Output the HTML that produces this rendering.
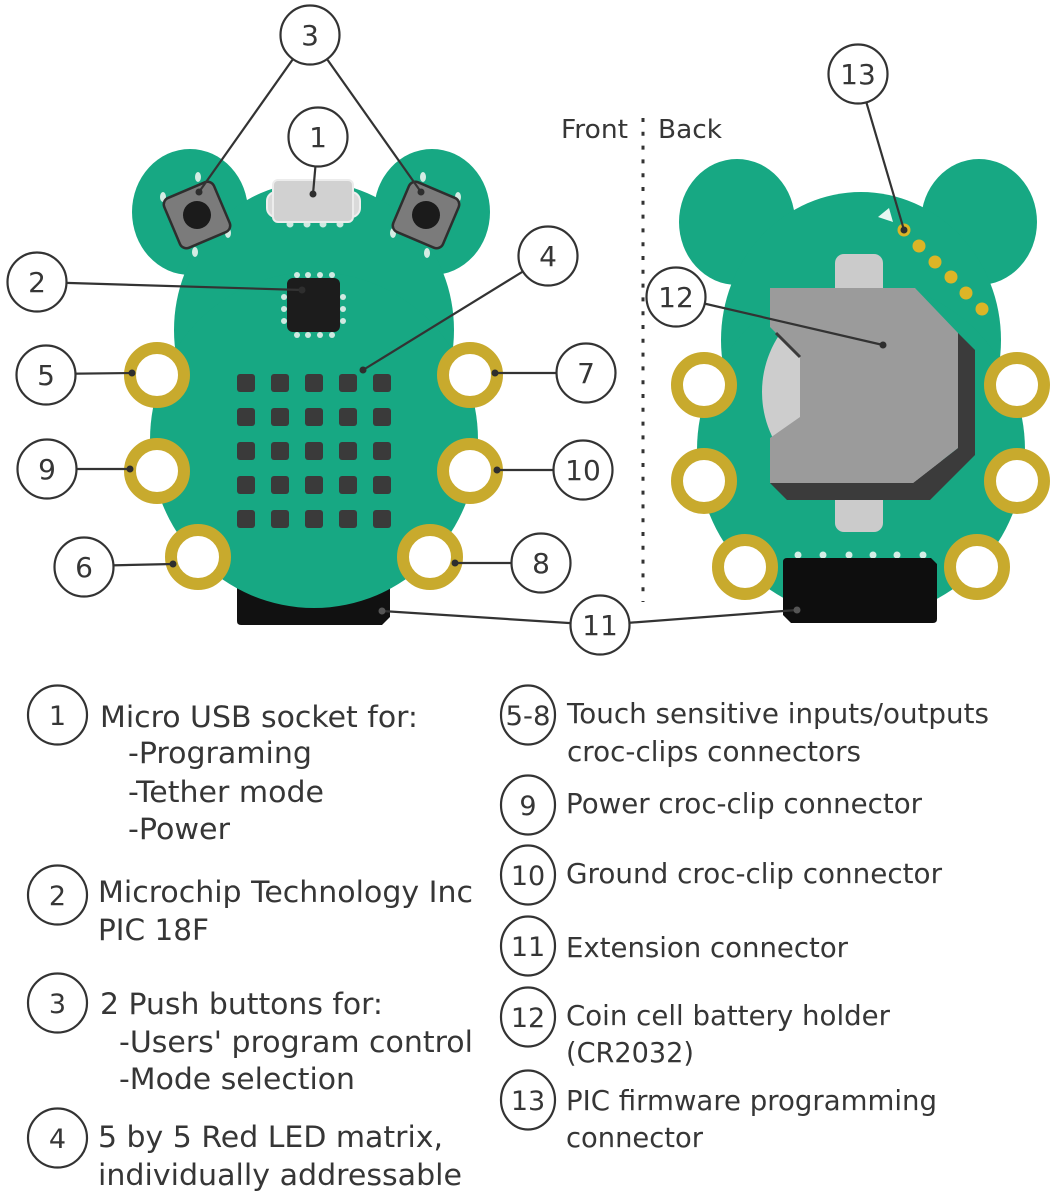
<!DOCTYPE html>
<html><head><meta charset="utf-8"><style>
html,body{margin:0;padding:0;background:#fff;}
svg{display:block;}
text{font-family:"DejaVu Sans","Liberation Sans",sans-serif;fill:#363636;}
</style></head><body>
<svg width="1057" height="1200" viewBox="0 0 1057 1200" xmlns="http://www.w3.org/2000/svg">
<rect width="1057" height="1200" fill="#fff"/>

<!-- FRONT extension connector (behind board) -->
<path d="M237,565 H390 V617 L382,625 H241 Q237,625 237,621 Z" fill="#111"/>

<!-- FRONT board -->
<g fill="#17a883">
  <ellipse cx="190" cy="212" rx="58" ry="63"/>
  <ellipse cx="432" cy="212" rx="58" ry="63"/>
  <ellipse cx="314" cy="330" rx="140" ry="148"/>
  <ellipse cx="314" cy="440" rx="164" ry="168"/>
</g>

<!-- USB -->
<g fill="#cfe9e1">
  <circle cx="290" cy="224" r="3.5"/><circle cx="307" cy="224" r="3.5"/>
  <circle cx="323" cy="224" r="3.5"/><circle cx="340" cy="224" r="3.5"/>
</g>
<rect x="267" y="192" width="93" height="25" rx="9" fill="#dadada" stroke="#eeeeee" stroke-width="2"/>
<rect x="273" y="180" width="80" height="42" rx="5" fill="#d1d1d1" stroke="#ececec" stroke-width="2"/>

<!-- Buttons -->
<g fill="#d4ece4">
  <ellipse cx="198" cy="177" rx="3" ry="5"/><ellipse cx="163" cy="197" rx="3" ry="5"/>
  <ellipse cx="228" cy="233" rx="3" ry="5"/><ellipse cx="195" cy="252" rx="3" ry="5"/>
  <ellipse cx="423" cy="177" rx="3" ry="5"/><ellipse cx="458" cy="197" rx="3" ry="5"/>
  <ellipse cx="393" cy="233" rx="3" ry="5"/><ellipse cx="427" cy="253" rx="3" ry="5"/>
</g>
<g transform="translate(197,215) rotate(-23)">
  <rect x="-27" y="-27" width="54" height="54" rx="7" fill="#7b7b7b" stroke="#2e2e2e" stroke-width="2.5"/>
  <circle cx="0" cy="0" r="14" fill="#1b1b1b"/>
</g>
<g transform="translate(426,215) rotate(23)">
  <rect x="-27" y="-27" width="54" height="54" rx="7" fill="#7b7b7b" stroke="#2e2e2e" stroke-width="2.5"/>
  <circle cx="0" cy="0" r="14" fill="#1b1b1b"/>
</g>

<!-- Chip -->
<g fill="#cfe9e1">
  <circle cx="297" cy="275" r="3"/><circle cx="308" cy="275" r="3"/><circle cx="320" cy="275" r="3"/><circle cx="332" cy="275" r="3"/>
  <circle cx="297" cy="335" r="3"/><circle cx="308" cy="335" r="3"/><circle cx="320" cy="335" r="3"/><circle cx="332" cy="335" r="3"/>
  <circle cx="284" cy="297" r="3"/><circle cx="284" cy="309" r="3"/><circle cx="284" cy="321" r="3"/>
  <circle cx="343" cy="297" r="3"/><circle cx="343" cy="309" r="3"/><circle cx="343" cy="321" r="3"/>
</g>
<rect x="287" y="278" width="53" height="54" rx="6" fill="#1c1c1c"/>

<!-- LED matrix -->
<g fill="#3a3a3a">
  <rect x="237" y="374" width="18" height="18" rx="3"/><rect x="271" y="374" width="18" height="18" rx="3"/><rect x="305" y="374" width="18" height="18" rx="3"/><rect x="339" y="374" width="18" height="18" rx="3"/><rect x="373" y="374" width="18" height="18" rx="3"/>
  <rect x="237" y="408" width="18" height="18" rx="3"/><rect x="271" y="408" width="18" height="18" rx="3"/><rect x="305" y="408" width="18" height="18" rx="3"/><rect x="339" y="408" width="18" height="18" rx="3"/><rect x="373" y="408" width="18" height="18" rx="3"/>
  <rect x="237" y="442" width="18" height="18" rx="3"/><rect x="271" y="442" width="18" height="18" rx="3"/><rect x="305" y="442" width="18" height="18" rx="3"/><rect x="339" y="442" width="18" height="18" rx="3"/><rect x="373" y="442" width="18" height="18" rx="3"/>
  <rect x="237" y="476" width="18" height="18" rx="3"/><rect x="271" y="476" width="18" height="18" rx="3"/><rect x="305" y="476" width="18" height="18" rx="3"/><rect x="339" y="476" width="18" height="18" rx="3"/><rect x="373" y="476" width="18" height="18" rx="3"/>
  <rect x="237" y="510" width="18" height="18" rx="3"/><rect x="271" y="510" width="18" height="18" rx="3"/><rect x="305" y="510" width="18" height="18" rx="3"/><rect x="339" y="510" width="18" height="18" rx="3"/><rect x="373" y="510" width="18" height="18" rx="3"/>
</g>

<!-- Front pads -->
<g fill="#fff" stroke="#c8aa2d" stroke-width="12">
  <circle cx="157" cy="375" r="27"/><circle cx="157" cy="471" r="27"/><circle cx="198" cy="557" r="27"/>
  <circle cx="470" cy="375" r="27"/><circle cx="470" cy="471" r="27"/><circle cx="430" cy="557" r="27"/>
</g>

<!-- BACK board -->
<g fill="#17a883" transform="translate(547,10)">
  <ellipse cx="190" cy="212" rx="58" ry="63"/>
  <ellipse cx="432" cy="212" rx="58" ry="63"/>
  <ellipse cx="314" cy="330" rx="140" ry="148"/>
  <ellipse cx="314" cy="440" rx="164" ry="168"/>
</g>
<!-- back triangle marker -->
<polygon points="878,217 889,208 893,222" fill="#e8f6f1"/>
<!-- programming pads -->
<g fill="#dcb526">
  <circle cx="904" cy="230" r="6.5"/><circle cx="919" cy="246" r="6.5"/><circle cx="935" cy="262" r="6.5"/>
  <circle cx="951" cy="277" r="6.5"/><circle cx="966" cy="293" r="6.5"/><circle cx="982" cy="309" r="6.5"/>
</g>
<!-- tabs -->
<rect x="835" y="254" width="48" height="50" rx="9" fill="#cbcbcb"/>
<rect x="835" y="480" width="48" height="52" rx="9" fill="#cbcbcb"/>
<!-- coin -->
<circle cx="865" cy="392" r="103" fill="#cdcdcd"/>
<!-- holder shadow -->
<polygon points="958,333 975,350 975,455 930,500 787,500 770,483 913,483 958,448" fill="#3b3b3b"/>
<!-- holder face -->
<polygon points="770,288 915,288 958,333 958,448 913,483 770,483 770,438 800,417 800,357 770,327" fill="#9b9b9b"/>
<line x1="776" y1="333" x2="800" y2="357" stroke="#3b3b3b" stroke-width="3"/>
<!-- back pads -->
<g fill="#fff" stroke="#c8aa2d" stroke-width="12">
  <circle cx="704" cy="385" r="27"/><circle cx="704" cy="481" r="27"/><circle cx="745" cy="567" r="27"/>
  <circle cx="1017" cy="385" r="27"/><circle cx="1017" cy="481" r="27"/><circle cx="977" cy="567" r="27"/>
</g>
<!-- back extension connector -->
<g fill="#d5eee6">
  <circle cx="798" cy="555" r="3.5"/><circle cx="823" cy="555" r="3.5"/><circle cx="849" cy="555" r="3.5"/>
  <circle cx="873" cy="555" r="3.5"/><circle cx="897" cy="555" r="3.5"/><circle cx="923" cy="555" r="3.5"/>
</g>
<path d="M787,558 H931 L937,564 V619 Q937,623 933,623 H791 L783,615 V562 Q783,558 787,558 Z" fill="#0e0e0e"/>

<!-- Front / Back divider -->
<line x1="643" y1="118" x2="643" y2="602" stroke="#333" stroke-width="3" stroke-dasharray="4 9.8"/>
<text x="561" y="138" font-size="26" textLength="67" lengthAdjust="spacingAndGlyphs">Front</text>
<text x="658" y="138" font-size="26" textLength="64" lengthAdjust="spacingAndGlyphs">Back</text>

<!-- Leader lines -->
<g stroke="#333" stroke-width="2.2" fill="none">
  <line x1="310" y1="35" x2="199" y2="192"/>
  <line x1="310" y1="35" x2="421" y2="192"/>
  <line x1="318" y1="137" x2="313" y2="194"/>
  <line x1="37" y1="282" x2="302" y2="290"/>
  <line x1="548" y1="256" x2="363" y2="370"/>
  <line x1="46" y1="374" x2="132" y2="373"/>
  <line x1="47" y1="469" x2="130" y2="469"/>
  <line x1="84" y1="566" x2="173" y2="564"/>
  <line x1="586" y1="373" x2="495" y2="373"/>
  <line x1="583" y1="470" x2="497" y2="470"/>
  <line x1="541" y1="563" x2="455" y2="563"/>
  <line x1="600" y1="625" x2="382" y2="611"/>
  <line x1="600" y1="625" x2="797" y2="610"/>
  <line x1="676" y1="297" x2="883" y2="345"/>
  <line x1="858" y1="74" x2="904" y2="230"/>
</g>
<g fill="#2e2e2e">
  <circle cx="199" cy="192" r="3.5"/><circle cx="421" cy="192" r="3.5"/><circle cx="313" cy="194" r="3.5"/>
  <circle cx="302" cy="290" r="3.5"/><circle cx="363" cy="370" r="3.5"/>
  <circle cx="132" cy="373" r="3.5"/><circle cx="130" cy="469" r="3.5"/><circle cx="173" cy="564" r="3.5"/>
  <circle cx="495" cy="373" r="3.5"/><circle cx="497" cy="470" r="3.5"/><circle cx="455" cy="563" r="3.5"/>
  <circle cx="382" cy="611" r="3.5" fill="#555"/><circle cx="797" cy="610" r="3.5" fill="#555"/>
  <circle cx="883" cy="345" r="3.5"/><circle cx="904" cy="230" r="3.5"/>
</g>

<!-- Diagram callouts -->
<g fill="#fff" stroke="#333" stroke-width="2.2">
  <circle cx="310" cy="35" r="29.5"/>
  <circle cx="318" cy="137" r="29.5"/>
  <circle cx="37" cy="282" r="29.5"/>
  <circle cx="548" cy="256" r="29.5"/>
  <circle cx="46" cy="375" r="29.5"/>
  <circle cx="47" cy="469" r="29.5"/>
  <circle cx="84" cy="567" r="29.5"/>
  <circle cx="586" cy="373" r="29.5"/>
  <circle cx="583" cy="470" r="29.5"/>
  <circle cx="541" cy="563" r="29.5"/>
  <circle cx="600" cy="625" r="29.5"/>
  <circle cx="676" cy="297" r="29.5"/>
  <circle cx="858" cy="74" r="29.5"/>
</g>
<g font-size="28" text-anchor="middle">
  <text x="310" y="45">3</text>
  <text x="318" y="147">1</text>
  <text x="37" y="292">2</text>
  <text x="548" y="266">4</text>
  <text x="46" y="385">5</text>
  <text x="47" y="479">9</text>
  <text x="84" y="577">6</text>
  <text x="586" y="383">7</text>
  <text x="583" y="480">10</text>
  <text x="541" y="573">8</text>
  <text x="600" y="635">11</text>
  <text x="676" y="307">12</text>
  <text x="858" y="84">13</text>
</g>

<!-- Legend circles -->
<g fill="#fff" stroke="#333" stroke-width="2.2">
  <circle cx="57.5" cy="715" r="29.5"/>
  <circle cx="57.5" cy="895" r="29.5"/>
  <circle cx="57.5" cy="1003" r="29.5"/>
  <circle cx="57.5" cy="1138" r="29.5"/>
  <ellipse cx="528" cy="715" rx="27" ry="29.5"/>
  <ellipse cx="528" cy="805" rx="27" ry="29.5"/>
  <ellipse cx="528" cy="875" rx="27" ry="29.5"/>
  <ellipse cx="528" cy="946" rx="27" ry="29.5"/>
  <ellipse cx="528" cy="1017" rx="27" ry="29.5"/>
  <ellipse cx="528" cy="1100" rx="27" ry="29.5"/>
</g>
<g font-size="27" text-anchor="middle">
  <text x="57.5" y="725">1</text>
  <text x="57.5" y="905">2</text>
  <text x="57.5" y="1013">3</text>
  <text x="57.5" y="1148">4</text>
  <text x="528" y="725" textLength="45" lengthAdjust="spacingAndGlyphs">5-8</text>
  <text x="528" y="815">9</text>
  <text x="528" y="885">10</text>
  <text x="528" y="956">11</text>
  <text x="528" y="1027">12</text>
  <text x="528" y="1110">13</text>
</g>

<!-- Legend text left -->
<g font-size="29">
  <text x="100" y="727" textLength="318" lengthAdjust="spacingAndGlyphs">Micro USB socket for:</text>
  <text x="128" y="763" textLength="184" lengthAdjust="spacingAndGlyphs">-Programing</text>
  <text x="128" y="802" textLength="196" lengthAdjust="spacingAndGlyphs">-Tether mode</text>
  <text x="128" y="839" textLength="102" lengthAdjust="spacingAndGlyphs">-Power</text>
  <text x="98" y="902" textLength="375" lengthAdjust="spacingAndGlyphs">Microchip Technology Inc</text>
  <text x="98" y="940" textLength="111" lengthAdjust="spacingAndGlyphs">PIC 18F</text>
  <text x="100" y="1014" textLength="283" lengthAdjust="spacingAndGlyphs">2 Push buttons for:</text>
  <text x="119" y="1052" textLength="354" lengthAdjust="spacingAndGlyphs">-Users' program control</text>
  <text x="119" y="1089" textLength="236" lengthAdjust="spacingAndGlyphs">-Mode selection</text>
  <text x="98" y="1147" textLength="345" lengthAdjust="spacingAndGlyphs">5 by 5 Red LED matrix,</text>
  <text x="98" y="1185" textLength="364" lengthAdjust="spacingAndGlyphs">individually addressable</text>
</g>
<!-- Legend text right -->
<g font-size="27.5">
  <text x="567" y="723" textLength="422" lengthAdjust="spacingAndGlyphs">Touch sensitive inputs/outputs</text>
  <text x="567" y="761" textLength="294" lengthAdjust="spacingAndGlyphs">croc-clips connectors</text>
  <text x="566" y="813" textLength="356" lengthAdjust="spacingAndGlyphs">Power croc-clip connector</text>
  <text x="566" y="883" textLength="376" lengthAdjust="spacingAndGlyphs">Ground croc-clip connector</text>
  <text x="566" y="957" textLength="282" lengthAdjust="spacingAndGlyphs">Extension connector</text>
  <text x="566" y="1025" textLength="324" lengthAdjust="spacingAndGlyphs">Coin cell battery holder</text>
  <text x="566" y="1062" textLength="128" lengthAdjust="spacingAndGlyphs">(CR2032)</text>
  <text x="566" y="1110" textLength="371" lengthAdjust="spacingAndGlyphs">PIC firmware programming</text>
  <text x="566" y="1147" textLength="137" lengthAdjust="spacingAndGlyphs">connector</text>
</g>
</svg>
</body></html>
